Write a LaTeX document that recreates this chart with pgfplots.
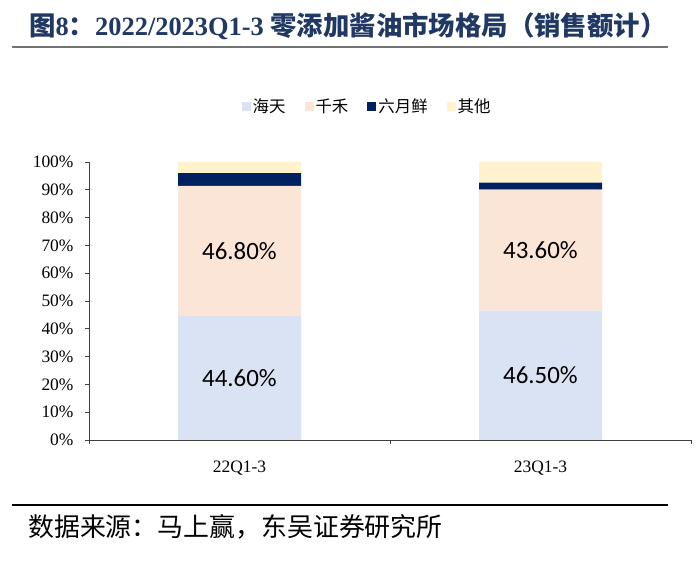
\documentclass[border=0pt]{standalone}
\usepackage{fontspec}
\usepackage{pgfplots}
\pgfplotsset{compat=1.18}
\setmainfont{Liberation Serif}
\newfontfamily\cjk{Noto Sans CJK SC}
\newfontfamily\carlito{Carlito}
\definecolor{haitian}{HTML}{DAE3F3}
\definecolor{qianhe}{HTML}{FBE5D6}
\definecolor{liuyue}{HTML}{002060}
\definecolor{other}{HTML}{FFF2CC}
\definecolor{titleblue}{HTML}{1F3864}
\begin{document}
\begin{tikzpicture}
\useasboundingbox (0bp,0bp) rectangle (700bp,564bp);
\node[anchor=west, text=titleblue, inner sep=0] at (29bp,538bp) {\fontsize{26.5}{30}\selectfont\bfseries\cjk 图\rmfamily 8\cjk：\rmfamily 2022/2023Q1-3 \cjk 零添加酱油市场格局（销售额计）};
\draw[line width=1.2bp, black!55] (12bp,517bp) -- (668bp,517bp);
\draw[line width=2.5bp, black] (12bp,59bp) -- (668bp,59bp);
\node[anchor=west, inner sep=0] at (28bp,37bp) {\cjk\fontsize{26}{30}\selectfont 数据来源：马上赢，东吴证券研究所};
\begin{axis}[
  at={(89bp,124bp)}, anchor=south west,
  scale only axis, width=602bp, height=278bp,
  ybar stacked, bar width=123bp,
  xmin=-0.5, xmax=1.5, ymin=0, ymax=100,
  axis x line*=bottom, axis y line*=left,
  axis line style={black!75, line width=0.8bp, -},
  tick style={black!75, line width=0.8bp},
  tick align=outside, major tick length=4bp,
  xtick={-0.5,0.5,1.5}, xticklabels={},
  extra x ticks={0,1}, extra x tick labels={22Q1-3,23Q1-3},
  extra x tick style={major tick length=0pt, tick label style={font=\fontsize{17.5}{20}\selectfont, yshift=-17bp}},
  ytick={0,10,...,100},
  yticklabels={0\%,10\%,20\%,30\%,40\%,50\%,60\%,70\%,80\%,90\%,100\%},
  yticklabel style={font=\fontsize{17.5}{20}\selectfont, xshift=-8bp},
  legend style={draw=none, at={(0.462,1.2014)}, anchor=center, font=\cjk\fontsize{16.5}{18}\selectfont,
    /tikz/every even column/.append style={column sep=17bp}},
  legend columns=4,
  legend image code/.code={\fill[#1] (0bp,-4.5bp) rectangle (9bp,4.5bp);},
  visualization depends on=rawy \as \rawy,
]
\addplot[fill=haitian, draw=none,
  nodes near coords={\pgfmathprintnumber[fixed,fixed zerofill,precision=2,assume math mode=true]{\rawy}\%},
  every node near coord/.append style={anchor=center, font=\carlito\fontsize{25}{28}\selectfont, text=black}]
  coordinates {(0,44.6) (1,46.5)};
\addplot[fill=qianhe, draw=none,
  nodes near coords={\pgfmathprintnumber[fixed,fixed zerofill,precision=2,assume math mode=true]{\rawy}\%},
  every node near coord/.append style={anchor=center, font=\carlito\fontsize{25}{28}\selectfont, text=black}]
  coordinates {(0,46.8) (1,43.6)};
\addplot[fill=liuyue, draw=none] coordinates {(0,4.6) (1,2.5)};
\addplot[fill=other, draw=none] coordinates {(0,4.0) (1,7.4)};
\legend{海天,千禾,六月鲜,其他}
\end{axis}
\end{tikzpicture}
\end{document}
